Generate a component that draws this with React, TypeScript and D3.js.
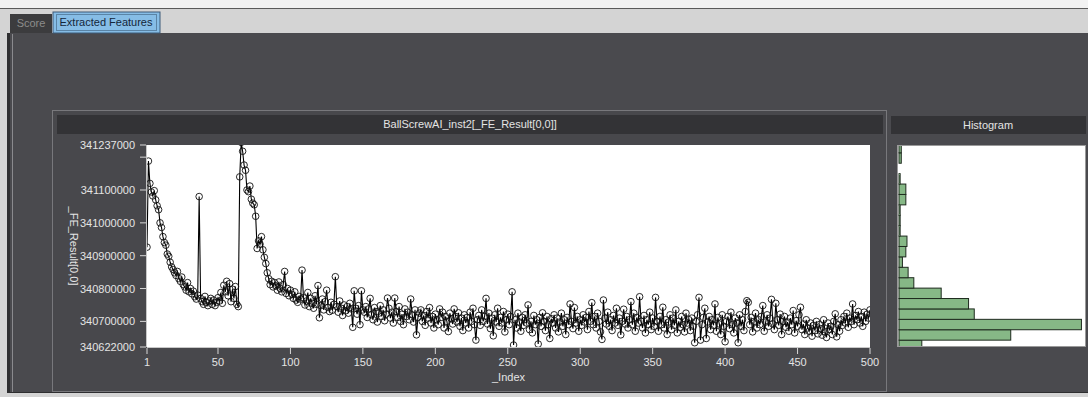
import React from 'react';
import * as d3 from 'd3';

// _FE_Result[0,0] per index, in thousands (340712 -> 340712000)
const feResultK = [
  340926, 341188, 341120, 341094, 341082, 341098, 341070, 341052, 341040, 341000,
  340986, 340958, 340940, 340932, 340905, 340898, 340880, 340866, 340858, 340848,
  340840, 340852, 340830, 340822, 340835, 340812, 340805, 340795, 340818, 340790,
  340800, 340784, 340792, 340775, 340768, 340780, 341080, 340770, 340760, 340752,
  340776, 340758, 340748, 340762, 340770, 340752, 340765, 340748, 340758, 340772,
  340762, 340788, 340755, 340810, 340790, 340822, 340778, 340815, 340760, 340798,
  340770, 340806, 340752, 340745, 341140, 341245, 341218, 341176, 341160, 341100,
  341095, 341112, 341072, 341060, 341055, 341020, 340922, 340945, 340935, 340958,
  340918, 340895, 340876, 340848, 340830, 340812, 340822, 340805, 340818, 340808,
  340795, 340820, 340800, 340790, 340812, 340852, 340785, 340800, 340778, 340795,
  340782, 340770, 340790, 340765, 340758, 340776, 340768, 340856, 340772, 340750,
  340762, 340788, 340745, 340770, 340755, 340740, 340778, 340752, 340809, 340711,
  340748, 340768, 340735, 340760, 340795, 340742, 340730, 340758, 340734, 340752,
  340836, 340745, 340728, 340762, 340740, 340718, 340750, 340732, 340745, 340725,
  340755, 340738, 340682, 340793, 340740, 340722, 340748, 340690, 340793, 340735,
  340728, 340745, 340712, 340738, 340770, 340720, 340705, 340742, 340730, 340698,
  340725, 340748, 340715, 340735, 340702, 340722, 340771, 340740, 340710, 340728,
  340695, 340771, 340730, 340712, 340745, 340700, 340722, 340690, 340738, 340715,
  340728, 340705, 340768, 340720, 340698, 340735, 340659, 340712, 340725, 340735,
  340700, 340718, 340688, 340730, 340710, 340742, 340695, 340715, 340680, 340722,
  340705, 340690, 340738, 340712, 340728, 340680, 340715, 340700, 340669, 340725,
  340708, 340692, 340738, 340715, 340698, 340726, 340685, 340710, 340672, 340720,
  340695, 340712, 340680, 340728, 340700, 340740, 340690, 340643, 340705, 340718,
  340688, 340735, 340700, 340715, 340770, 340692, 340725, 340678, 340710, 340656,
  340720, 340698, 340740, 340685, 340712, 340695, 340730, 340668, 340705, 340722,
  340690, 340715, 340790, 340628, 340705, 340680, 340725, 340698, 340670, 340712,
  340688, 340720, 340695, 340750, 340675, 340700, 340665, 340718, 340690, 340705,
  340631, 340712, 340685, 340726, 340700, 340672, 340715, 340690, 340648, 340708,
  340695, 340720, 340680, 340710, 340668, 340698, 340725, 340685, 340705, 340660,
  340712, 340690, 340753, 340700, 340678, 340742, 340695, 340715, 340670, 340705,
  340688, 340720, 340698, 340712, 340675, 340730, 340700, 340757, 340690, 340715,
  340680, 340725, 340700, 340668, 340645, 340765, 340710, 340692, 340728, 340685,
  340705, 340672, 340718, 340695, 340740, 340688, 340710, 340659, 340700, 340737,
  340692, 340715, 340680, 340705, 340760, 340690, 340725, 340670, 340712, 340695,
  340775, 340700, 340680, 340718, 340665, 340705, 340690, 340728, 340675, 340710,
  340685, 340773, 340700, 340670, 340715, 340690, 340743, 340680, 340705, 340660,
  340698, 340720, 340675, 340710, 340688, 340735, 340665, 340700, 340682, 340715,
  340690, 340668, 340725, 340695, 340705, 340672, 340710, 340685, 340635, 340700,
  340720, 340773, 340643, 340690, 340712, 340740, 340648, 340698, 340715, 340675,
  340705, 340688, 340753, 340670, 340712, 340692, 340660, 340720, 340685, 340638,
  340700, 340715, 340678, 340728, 340690, 340665, 340710, 340695, 340635, 340720,
  340685, 340705, 340672, 340730, 340763, 340758, 340690, 340712, 340668, 340700,
  340725, 340680, 340705, 340690, 340715, 340748, 340670, 340698, 340720, 340685,
  340710, 340767, 340692, 340675, 340755, 340705, 340688, 340722, 340660, 340700,
  340715, 340682, 340698, 340670, 340710, 340690, 340733, 340665, 340702, 340685,
  340720, 340743, 340675, 340692, 340660, 340705, 340680, 340670, 340695, 340655,
  340688, 340672, 340700, 340662, 340690, 340678, 340658, 340705, 340668, 340651,
  340695, 340675, 340685, 340660, 340700, 340723, 340653, 340690, 340670, 340705,
  340688, 340715, 340695, 340725, 340682, 340710, 340700, 340753, 340690, 340718,
  340705, 340730, 340695, 340715, 340685, 340728, 340700, 340722, 340710, 340735,
];

const yTicks = [341237000, 341100000, 341000000, 340900000, 340800000, 340700000, 340622000];
const yMinorTicks = [341200000];
const xTicks = [1, 50, 100, 150, 200, 250, 300, 350, 400, 450, 500];

// histogram bins (lower edge, in thousands) and counts, bottom to top
const histLowerK = [
  340608, 340640, 340672, 340704, 340736, 340768, 340800, 340832, 340864, 340896,
  340928, 340960, 340992, 341024, 341056, 341088, 341120, 341152, 341184, 341216,
];
const histCounts = [20, 98, 160, 66, 61, 37, 13, 8, 3, 6, 7, 1, 1, 1, 6, 6, 1, 0, 2, 2];
const histBinK = 32;

const FONT = '"Liberation Sans", Arial, sans-serif';
const TXT = '#e4e4e4';

export default function App() {
  const data = feResultK.map((v, i) => ({ index: i + 1, value: v * 1000 }));

  const plot = { left: 147, right: 870, top: 145, bottom: 347 };
  const x = d3.scaleLinear().domain([1, 500]).range([plot.left, plot.right]);
  const y = d3.scaleLinear().domain([340622000, 341237000]).range([plot.bottom, plot.top]);

  const line = d3.line<{ index: number; value: number }>()
    .x(d => x(d.index))
    .y(d => y(d.value));

  const hp = { left: 898, right: 1085, top: 146, bottom: 346 };
  const hy = d3.scaleLinear().domain([340622000, 341237000]).range([hp.bottom, hp.top]);
  const hx = d3.scaleLinear().domain([0, 164]).range([hp.left + 1, hp.right + 1]);

  return (
    <>
      <style>{'body{margin:0}'}</style>
      <svg width={1088} height={397} style={{ display: 'block' }} fontFamily={FONT}>
        {/* window chrome */}
        <rect x={0} y={0} width={1088} height={397} fill="#d4d4d4" />
        <rect x={0} y={0} width={1088} height={8} fill="#f2f2f2" />
        <rect x={0} y={8} width={1088} height={1} fill="#5a5a5a" />
        <rect x={7} y={33} width={1081} height={360} fill="#2e2e30" />
        <rect x={10} y={33} width={1078} height={359} fill="#4a4a4e" />
        <line x1={12.5} y1={34} x2={12.5} y2={392} stroke="#8a8a8e" />

        {/* tabs */}
        <rect x={10} y={14} width={42} height={19} fill="#3c3c3e" />
        <text x={31} y={27} fontSize={11} fill="#8c8c8c" textAnchor="middle">Score</text>
        <rect x={53} y={12} width={107} height={21} fill="#86bde6" stroke="#3d5a78" strokeWidth={1} />
        <rect x={56.5} y={14.5} width={100} height={16} fill="none" stroke="#2f4b66" strokeDasharray="1,1" />
        <text x={106} y={26} fontSize={11} fill="#14263a" textAnchor="middle">Extracted Features</text>

        {/* main chart panel */}
        <rect x={52.5} y={110.5} width={834} height={281} fill="#48484c" stroke="#78787c" />
        <rect x={57} y={115} width={826} height={19} fill="#333336" />
        <text x={470} y={128} fontSize={11} fill={TXT} textAnchor="middle">BallScrewAI_inst2[_FE_Result[0,0]]</text>

        <rect x={plot.left} y={plot.top} width={plot.right - plot.left} height={plot.bottom - plot.top} fill="#ffffff" />
        <defs>
          <clipPath id="plotClip">
            <rect x={plot.left} y={plot.top} width={plot.right - plot.left} height={plot.bottom - plot.top} />
          </clipPath>
          <clipPath id="histClip">
            <rect x={hp.left} y={hp.top} width={hp.right - hp.left} height={hp.bottom - hp.top} />
          </clipPath>
        </defs>

        <g clipPath="url(#plotClip)">
          <path d={line(data) || ''} fill="none" stroke="#000" strokeWidth={1.1} />
          {data.map(d => (
            <circle key={d.index} cx={x(d.index)} cy={y(d.value)} r={3.3} fill="none" stroke="#111" strokeWidth={0.9} />
          ))}
        </g>

        {/* y axis */}
        <line x1={plot.left - 0.5} y1={plot.top} x2={plot.left - 0.5} y2={plot.bottom} stroke="#c8c8c8" />
        {yTicks.map(t => (
          <g key={t}>
            <line x1={plot.left - 7} x2={plot.left - 1} y1={y(t)} y2={y(t)} stroke="#d8d8d8" />
            <text x={plot.left - 12} y={y(t) + 4} fontSize={11} fill={TXT} textAnchor="end">{t}</text>
          </g>
        ))}
        {yMinorTicks.map(t => (
          <line key={t} x1={plot.left - 7} x2={plot.left - 1} y1={y(t)} y2={y(t)} stroke="#d8d8d8" />
        ))}
        <text transform={`translate(70,${(plot.top + plot.bottom) / 2}) rotate(90)`} fontSize={11} fill={TXT} textAnchor="middle">_FE_Result[0,0]</text>

        {/* x axis */}
        <line x1={plot.left} y1={plot.bottom + 0.5} x2={plot.right} y2={plot.bottom + 0.5} stroke="#c8c8c8" />
        {xTicks.map(t => (
          <g key={t}>
            <line x1={x(t)} x2={x(t)} y1={plot.bottom + 1} y2={plot.bottom + 7} stroke="#d8d8d8" />
            <text x={x(t)} y={plot.bottom + 19} fontSize={11} fill={TXT} textAnchor="middle">{t}</text>
          </g>
        ))}
        <text x={(plot.left + plot.right) / 2} y={381} fontSize={11} fill={TXT} textAnchor="middle">_Index</text>

        {/* histogram panel */}
        <rect x={891} y={116} width={195} height={18} fill="#333336" />
        <text x={988} y={129} fontSize={11} fill={TXT} textAnchor="middle">Histogram</text>
        <rect x={hp.left - 0.5} y={hp.top - 0.5} width={hp.right - hp.left + 1} height={hp.bottom - hp.top + 1} fill="#ffffff" stroke="#9a9a9a" />
        <g clipPath="url(#histClip)">
          {histCounts.map((c, i) => c > 0 && (
            <rect
              key={i}
              x={hx(0)}
              y={hy((histLowerK[i] + histBinK) * 1000)}
              width={hx(c) - hx(0)}
              height={hy(histLowerK[i] * 1000) - hy((histLowerK[i] + histBinK) * 1000)}
              fill="#86b886"
              stroke="#1e2a1e"
              strokeWidth={1}
            />
          ))}
        </g>
      </svg>
    </>
  );
}
